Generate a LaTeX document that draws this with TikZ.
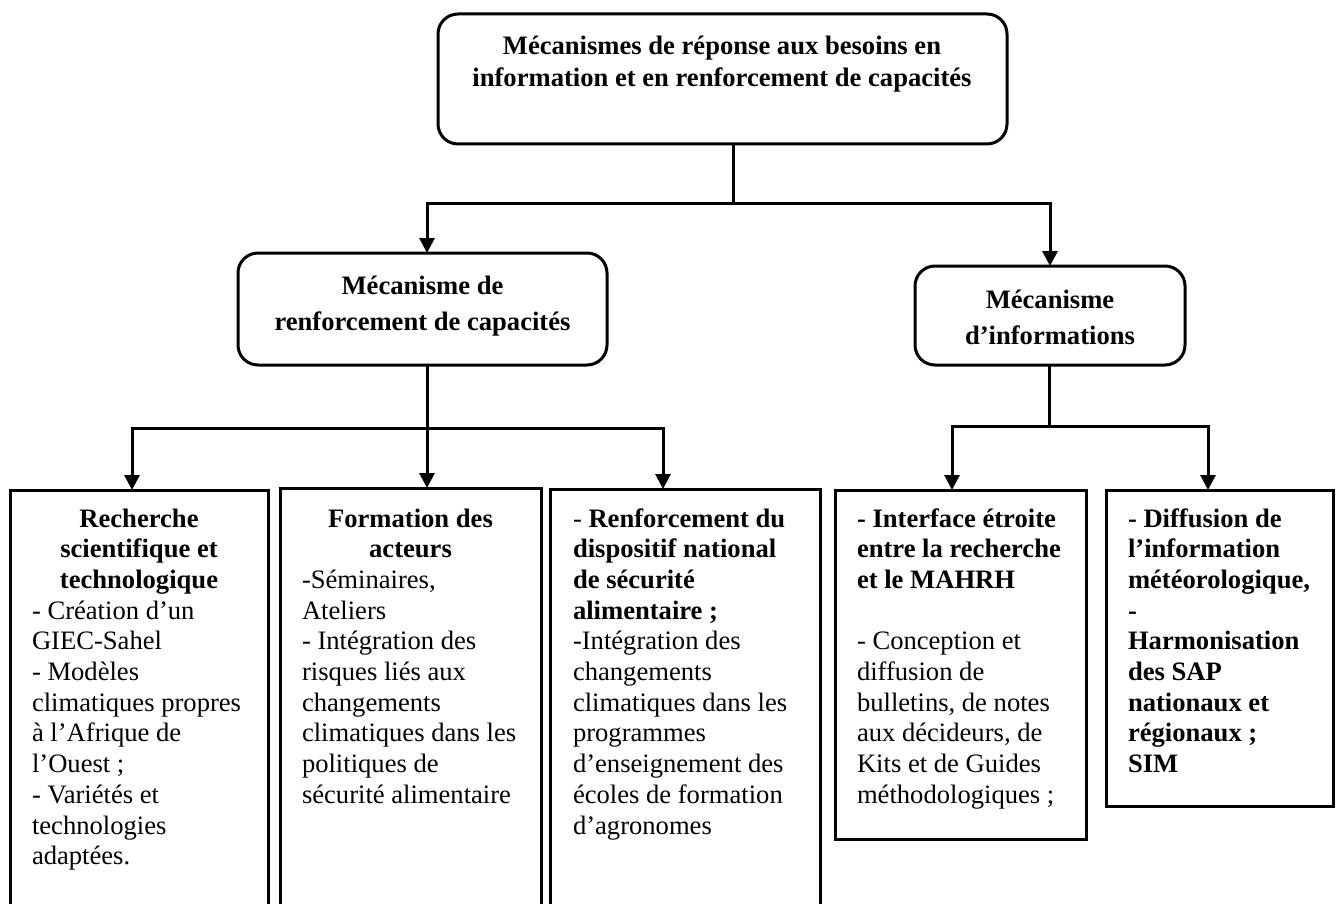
\documentclass[tikz,border=0pt]{standalone}
\usepackage{fontspec}
\setmainfont{Liberation Serif}
\usetikzlibrary{arrows.meta,calc}

\begin{document}
\begin{tikzpicture}[x=1pt,y=-1pt,
  every node/.style={inner sep=0pt, outer sep=0pt},
  roundbox/.style={draw, line width=3pt, rounded corners=20pt, anchor=north west},
  sqbox/.style={draw, line width=3pt, anchor=north west},
  bodytext/.style={font=\fontsize{26.6}{30.7}\selectfont, align=flush left, anchor=base west, text width=240pt},
  boxhead/.style={font=\fontsize{26.6}{30.7}\selectfont\bfseries, align=flush center, anchor=base, text width=240pt},
  toptext/.style={font=\fontsize{26.6}{32}\selectfont\bfseries, align=flush center, anchor=base, text width=560pt},
  midtext/.style={font=\fontsize{26.6}{36}\selectfont\bfseries, align=flush center, anchor=base, text width=360pt},
  conn/.style={line width=3pt},
  arr/.style={line width=3pt, -{Triangle[length=15pt,width=15pt]}},
]
\useasboundingbox (0,0) rectangle (1338,904);
\clip (0,0) rectangle (1338,904);

% top level
\node[roundbox, minimum width=569pt, minimum height=130pt] (top) at (438,14) {};
\node[toptext] (toptxt) at (722,55)
  {Mécanismes de réponse aux besoins en\\information et en renforcement de capacités};

% second level
\node[roundbox, minimum width=369pt, minimum height=112pt] (cap) at (238,253) {};
\node[midtext] (captxt) at (422.5,294) {Mécanisme de\\renforcement de capacités};
\node[roundbox, minimum width=270pt, minimum height=99pt] (info) at (915,266) {};
\node[midtext, text width=260pt] (infotxt) at (1050,308) {Mécanisme\\d’informations};

% third level
\node[sqbox, minimum width=258pt, minimum height=430pt] (b1) at (10,490) {};
\node[boxhead] (b1h) at (139,527) {Recherche\\scientifique et\\technologique};
\node[bodytext] (b1t) at (32,619.1)
  {- Création d’un\\GIEC-Sahel\\- Modèles\\climatiques propres\\à l’Afrique de\\%
   l’Ouest ;\\- Variétés et\\technologies\\adaptées.};

\node[sqbox, minimum width=261pt, minimum height=432pt] (b2) at (280,488) {};
\node[boxhead] (b2h) at (410.5,527) {Formation des\\acteurs};
\node[bodytext] (b2t) at (302,588.4)
  {-Séminaires,\\Ateliers\\- Intégration des\\risques liés aux\\changements\\%
   climatiques dans les\\politiques de\\sécurité alimentaire};

\node[sqbox, minimum width=270pt, minimum height=431pt] (b3) at (550,489) {};
\node[bodytext] (b3t) at (573,527)
  {- \textbf{Renforcement du}\\\textbf{dispositif national}\\\textbf{de sécurité}\\%
   \textbf{alimentaire ;}\\-Intégration des\\changements\\climatiques dans les\\%
   programmes\\d’enseignement des\\écoles de formation\\d’agronomes};

\node[sqbox, minimum width=251pt, minimum height=349pt] (b4) at (835,490) {};
\node[bodytext] (b4t) at (857,527)
  {\textbf{- Interface étroite}\\\textbf{entre la recherche}\\\textbf{et le MAHRH}\\[30.7pt]%
   - Conception et\\diffusion de\\bulletins, de notes\\aux décideurs, de\\%
   Kits et de Guides\\méthodologiques ;};

\node[sqbox, minimum width=227pt, minimum height=316pt] (b5) at (1106,490) {};
\node[bodytext, text width=210pt] (b5t) at (1128,527)
  {\bfseries - Diffusion de\\l’information\\météorologique,\\-\\Harmonisation\\%
   des SAP\\nationaux et\\régionaux ;\\SIM};

% connectors
\coordinate (busA) at (733,204);
\draw[conn] (top.south -| busA) -- (busA);
\draw[arr] (busA) -| ([xshift=4.5pt]cap.north);
\draw[arr] (busA) -| (info.north);

\coordinate (busB) at (427,428);
\draw[conn] (cap.south -| busB) -- (busB);
\draw[arr] (busB) -| ([xshift=-7pt]b1.north);
\draw[arr] (busB) -- (b2.north -| busB);
\draw[arr] (busB) -| ([xshift=-22pt]b3.north);

\coordinate (busC) at (1049,426);
\draw[conn] (info.south -| busC) -- (busC);
\draw[arr] (busC) -| ([xshift=-8.5pt]b4.north);
\draw[arr] (busC) -| ([xshift=-11.5pt]b5.north);
\end{tikzpicture}
\end{document}
